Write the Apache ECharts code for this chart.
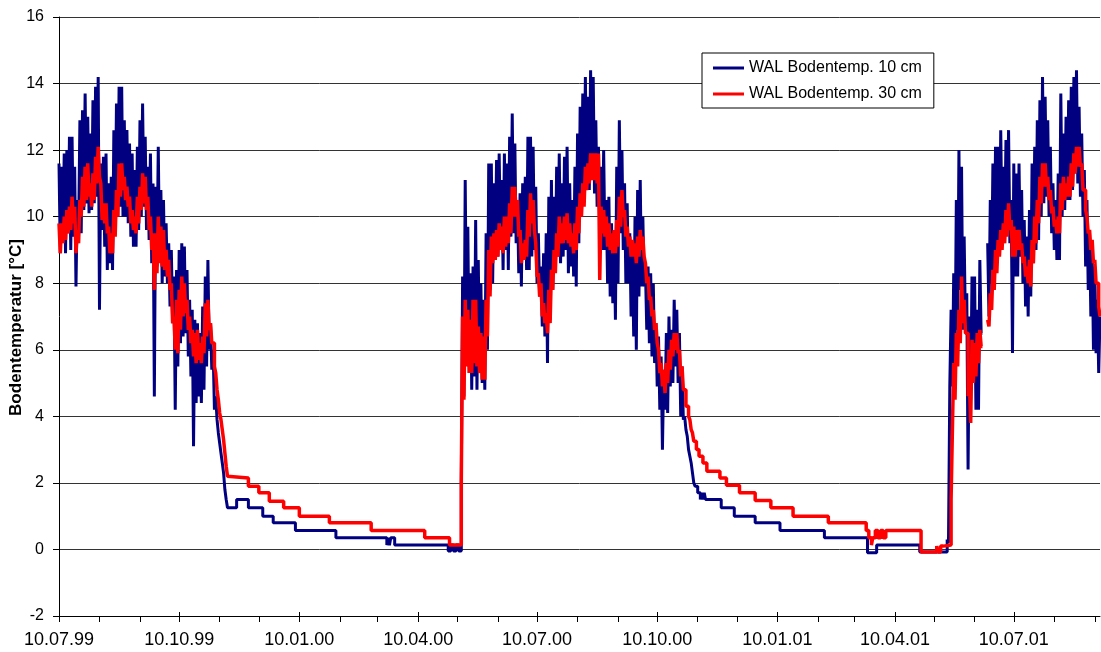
<!DOCTYPE html>
<html>
<head>
<meta charset="utf-8">
<script src="https://cdn.jsdelivr.net/npm/echarts@6/dist/echarts.min.js"></script>
<style>
  html, body { margin: 0; padding: 0; background: #fff; }
  #chart { width: 1101px; height: 652px; }
</style>
</head>
<body>
<div id="chart"></div>
<script>
// Tageswerte ab 10.07.1999 (Tag 0)
const startDate = '1999-07-10';
const lastDay = 797;
const tickLabels = ['10.07.99', '10.10.99', '10.01.00', '10.04.00', '10.07.00', '10.10.00', '10.01.01', '10.04.01', '10.07.01'];
const seriesNames = ['WAL Bodentemp. 10 cm', 'WAL Bodentemp. 30 cm'];

// 10 cm: Sommer 1999, Tag 0..121
const blue99 = [
  11.6, 8.9, 11.5, 9.5, 11.9, 8.9, 12.0, 9.5, 12.4, 9.0,
  12.4, 9.4, 11.5, 7.9, 10.5, 9.5, 12.9, 9.5, 13.2, 10.2,
  13.7, 10.4, 13.0, 10.1, 12.5, 10.2, 13.5, 10.4, 13.9, 10.6,
  14.2, 7.2, 11.6, 9.6, 11.8, 9.1, 11.9, 8.4, 11.0, 8.6,
  11.2, 8.4, 12.6, 9.7, 13.4, 10.0, 13.9, 10.3, 13.9, 10.0,
  12.9, 10.0, 12.6, 9.8, 12.2, 9.4, 11.9, 9.1, 11.4, 9.1,
  12.1, 9.6, 12.9, 10.0, 13.4, 10.3, 12.4, 9.6, 11.5, 9.3,
  11.9, 8.6, 11.0, 4.6, 10.9, 8.5, 12.1, 8.7, 10.8, 8.0,
  10.5, 8.2, 9.8, 8.0, 9.2, 7.3, 9.0, 6.8, 8.2, 4.2,
  8.4, 5.5, 9.0, 6.2, 9.2, 6.4, 9.1, 6.5, 8.4, 5.8,
  7.5, 5.2, 7.2, 3.1, 6.9, 4.4, 6.8, 4.6, 6.5, 4.4,
  7.3, 4.8, 8.2, 5.5, 8.7, 6.0, 6.8, 5.4, 6.0, 4.2,
  4.6, 3.9
];
// 10 cm: Winter 1999/2000, Stufen [Tag, Wert]
const blueWinter99 = [
  [122, 3.5], [123, 3.2], [124, 2.9], [125, 2.6], [126, 2.3], [127, 1.8], [128, 1.5], [129, 1.25],
  [136, 1.5], [145, 1.25], [156, 1.0], [164, 0.8], [181, 0.57], [212, 0.35],
  [251, 0.13], [252, 0.35], [253, 0.13], [254, 0.35], [257, 0.13],
  [298, -0.05], [300, 0.13], [302, -0.05], [304, 0.13], [306, -0.05], [308, 2.0]
];
// 10 cm: Sommer 2000, ab Tag 309
const blue00 = [
  8.2, 4.6, 11.1, 6.5, 9.7, 5.5, 8.3, 4.8, 8.5, 5.2,
  9.9, 4.8, 8.7, 5.3, 8.0, 5.0, 7.5, 4.8, 9.5, 6.0,
  11.6, 7.8, 11.6, 8.0, 11.0, 9.0, 11.7, 8.8, 11.9, 9.2,
  11.1, 8.4, 11.9, 9.0, 11.6, 8.4, 12.4, 9.4, 13.1, 9.5,
  12.2, 9.2, 10.5, 8.3, 10.7, 7.9, 11.0, 9.0, 11.2, 8.4,
  12.4, 8.4, 12.4, 8.8, 12.1, 9.0, 10.9, 8.0, 9.5, 7.6,
  8.5, 6.7, 8.9, 6.4, 9.5, 5.6, 10.6, 6.9, 11.1, 7.8,
  10.6, 8.4, 11.5, 8.8, 11.9, 8.6, 11.0, 8.8, 11.8, 9.0,
  12.1, 8.3, 11.0, 8.5, 10.5, 8.2, 11.5, 7.9, 12.5, 9.2,
  13.3, 10.0, 13.7, 10.6, 14.2, 10.9, 13.6, 10.8, 14.4, 11.2,
  14.2, 10.7, 12.9, 10.3, 12.1, 9.5, 11.5, 9.0, 12.0, 9.0,
  10.5, 8.0, 10.6, 7.6, 9.8, 7.4, 9.5, 6.9, 11.5, 8.0,
  12.9, 9.5, 12.0, 9.0, 11.0, 8.0, 10.4, 8.0, 9.5, 7.0,
  8.9, 6.4, 10.0, 6.0, 10.8, 7.6, 11.1, 7.9, 10.0, 7.9,
  8.4, 6.6, 8.5, 6.2, 8.3, 5.8, 8.0, 5.6, 6.8, 4.9,
  6.4, 4.2, 5.8, 3.0, 5.4, 4.2, 6.5, 4.1, 7.0, 4.9,
  6.6, 5.0, 7.5, 5.5, 7.2, 5.0, 6.5, 4.0, 5.5, 3.9,
  4.0, 3.6, 3.4, 3.0, 2.8, 2.6, 2.3
];
// 10 cm: Winter 2000/2001
const blueWinter00 = [
  [486, 2.0], [487, 1.9], [489, 1.7], [491, 1.5], [492, 1.7], [493, 1.5], [494, 1.7], [495, 1.5],
  [507, 1.25], [517, 1.0], [533, 0.8], [552, 0.57], [586, 0.35],
  [619, -0.1], [626, 0.13], [659, -0.08], [680, 0.3], [681, 0.2]
];
// 10 cm: Sommer 2001, ab Tag 682 (Lücke = null)
const blue01 = [
  4.9, 7.2, 4.9, 8.3, 5.6, 10.5, 6.6, 12.0, 7.8, 11.5,
  6.6, 9.4, 6.6, 7.7, 2.4, 7.0, 4.5, 8.2, 5.5, 8.2,
  4.2, 7.2, 4.2, 8.7, 6.5, null, null, null, null, 9.2,
  7.0, 10.5, 8.0, 11.6, 8.4, 12.1, 8.8, 12.1, 9.0, 12.6,
  9.5, 11.5, 9.4, 12.3, 9.7, 12.6, 9.2, 10.5, 5.9, 11.6,
  8.2, 11.3, 8.2, 11.6, 8.8, 10.8, 8.0, 9.9, 7.3, 9.4,
  7.0, 10.2, 7.6, 11.6, 8.6, 12.1, 9.0, 12.9, 9.3, 13.5,
  10.0, 14.2, 10.4, 13.6, 10.6, 12.9, 10.0, 12.1, 9.5, 11.0,
  9.0, 10.5, 8.7, 11.3, 8.7, 13.7, 10.0, 12.5, 10.2, 13.0,
  10.5, 13.5, 10.5, 13.9, 10.8, 14.2, 11.3, 14.4, 11.0, 13.3,
  10.6, 12.5, 10.0, 11.4, 8.5, 10.5, 7.8, 9.5, 7.0, 9.0,
  6.0, 8.5, 5.9, 7.5, 5.3, 7.0
];

// 30 cm: Sommer 1999, Tag 0..129
const red99 = [
  9.8, 8.9, 9.8, 9.2, 10.0, 9.3, 10.2, 9.5, 10.3, 9.6,
  10.6, 9.8, 10.3, 8.9, 9.6, 9.2, 10.5, 10.0, 11.2, 10.3,
  11.5, 10.5, 11.6, 10.6, 11.0, 10.3, 11.3, 10.5, 11.8, 11.0,
  12.1, 11.2, 11.0, 9.9, 10.4, 9.8, 10.4, 9.5, 9.7, 8.9,
  9.5, 8.9, 10.2, 9.4, 10.8, 10.0, 11.6, 10.6, 11.6, 10.8,
  11.2, 10.5, 10.9, 10.3, 10.6, 9.8, 10.2, 9.6, 10.0, 9.5,
  10.6, 9.8, 10.9, 10.2, 11.3, 10.4, 11.2, 10.2, 10.6, 9.6,
  10.0, 9.0, 9.5, 7.8, 9.5, 8.3, 10.0, 8.6, 9.7, 8.5,
  9.6, 8.4, 9.0, 8.2, 8.7, 7.8, 8.0, 6.8, 7.0, 6.0,
  7.5, 5.9, 7.8, 6.6, 8.2, 7.0, 8.0, 7.1, 7.5, 6.6,
  7.0, 6.2, 6.6, 5.8, 6.5, 5.6, 6.6, 5.7, 6.2, 5.6,
  6.4, 5.9, 7.4, 6.4, 7.5, 6.6, 6.8, 6.2, 6.2, 5.5,
  5.3, 4.8, 4.5, 4.1, 3.9, 3.6, 3.3, 2.9, 2.5, 2.2
];
const redWinter99 = [
  [130, 2.15], [145, 1.9], [153, 1.7], [161, 1.45], [172, 1.25], [184, 1.0],
  [207, 0.8], [239, 0.57], [280, 0.35], [299, 0.13], [308, 2.0]
];
// 30 cm: Sommer 2000, ab Tag 309
const red00 = [
  7.0, 4.5, 7.5, 5.5, 7.2, 5.3, 6.9, 5.3, 7.5, 5.6,
  7.5, 5.5, 6.7, 5.3, 6.5, 5.1, 6.4, 5.1, 7.5, 6.4,
  9.0, 7.6, 9.4, 8.6, 9.5, 8.7, 9.6, 8.8, 9.8, 9.0,
  9.7, 8.9, 10.0, 9.1, 10.0, 9.2, 10.4, 9.5, 10.9, 10.0,
  10.9, 10.0, 10.5, 9.4, 9.6, 8.6, 9.2, 8.7, 9.3, 8.8,
  10.2, 9.4, 10.7, 9.8, 10.5, 9.6, 9.2, 8.2, 8.3, 7.6,
  8.0, 7.0, 7.4, 6.8, 7.1, 6.5, 7.8, 6.8, 8.4, 7.8,
  9.0, 8.3, 9.5, 8.8, 10.0, 9.2, 9.8, 9.2, 10.0, 9.3,
  10.1, 9.2, 9.8, 9.1, 9.5, 8.9, 9.8, 9.0, 10.3, 9.5,
  10.7, 10.0, 11.0, 10.3, 11.5, 10.8, 11.6, 11.0, 11.9, 11.1,
  11.9, 11.1, 11.9, 11.0, 11.9, 8.1, 10.3, 9.5, 10.2, 9.4,
  10.0, 9.1, 9.8, 9.0, 9.5, 8.9, 9.6, 8.9, 9.9, 9.1,
  10.6, 9.7, 10.8, 10.0, 10.2, 9.4, 9.7, 9.1, 9.4, 8.8,
  9.3, 8.8, 9.2, 8.6, 9.4, 8.8, 9.6, 9.0, 9.4, 8.8,
  8.6, 8.0, 8.2, 7.5, 7.6, 7.0, 7.2, 6.6, 6.8, 6.2,
  6.0, 5.3, 5.6, 4.9, 5.4, 4.7, 5.6, 5.0, 6.0, 5.4,
  6.3, 5.8, 6.5, 6.0, 6.5, 5.9, 6.0, 5.2, 5.5, 4.8,
  4.8, 4.3, 4.3, 4.0, 3.9, 3.6, 3.5
];
const redWinter00 = [
  [486, 3.25], [488, 3.0], [490, 2.8], [493, 2.6], [496, 2.35], [506, 2.15], [511, 1.93],
  [521, 1.7], [533, 1.47], [545, 1.25], [562, 1.0], [589, 0.8], [618, 0.57],
  [620, 0.35], [622, 0.13], [623, 0.35], [625, 0.57], [627, 0.35], [629, 0.57], [631, 0.35], [633, 0.57],
  [660, -0.08], [672, 0.1], [673, -0.08], [675, 0.1], [677, 0.13], [683, 1.5], [684, 3.6]
];
// 30 cm: Sommer 2001, ab Tag 685
const red01 = [
  5.6, 4.5, 6.5, 5.5, 7.2, 6.2, 8.2, 6.8, 7.5, 6.5,
  6.5, 4.6, 5.0, 3.8, 6.3, 5.0, 6.2, 5.2, 6.5, 5.6,
  6.6, 6.1, null, null, null, null, 6.9, 6.7, 7.7, 7.2,
  8.4, 7.8, 9.0, 8.3, 9.3, 8.8, 9.6, 9.0, 9.8, 9.2,
  10.2, 9.4, 10.4, 9.6, 9.9, 8.8, 9.7, 8.8, 9.6, 9.0,
  9.6, 9.0, 9.2, 8.6, 8.8, 8.2, 8.5, 8.0, 8.7, 7.9,
  9.3, 8.6, 10.0, 9.2, 10.5, 9.8, 11.2, 10.4, 11.6, 10.9,
  11.6, 10.9, 11.2, 10.5, 10.8, 10.1, 10.3, 9.7, 9.9, 9.5,
  10.0, 9.5, 11.0, 10.2, 11.2, 10.5, 11.0, 10.6, 11.2, 10.6,
  11.6, 10.9, 11.9, 11.3, 12.1, 11.5, 12.1, 11.5, 11.6, 10.8,
  10.8, 10.2, 10.0, 9.5, 9.6, 9.0, 9.3, 8.6, 8.7, 8.0,
  8.0, 7.3, 7.0
];

// x = Tage seit startDate
const DAY = 864e5;
const t0 = Date.parse(startDate + 'T00:00:00Z');
function daily(first, vals) {
  return vals.map((v, i) => [first + i, v]);
}
const blueData = [].concat(daily(0, blue99), blueWinter99, daily(309, blue00), blueWinter00, daily(682, blue01));
const redData = [].concat(daily(0, red99), redWinter99, daily(309, red00), redWinter00, daily(685, red01));

function labelDay(s) {
  const p = s.split('.');
  const y = +p[2];
  return Math.round((Date.UTC(y < 50 ? 2000 + y : 1900 + y, +p[1] - 1, +p[0]) - t0) / DAY);
}
const majorTicks = tickLabels.map(labelDay);
const monthTicks = [];
for (let m = 0; ; m++) {
  const d = Math.round((Date.UTC(1999, 6 + m, 10) - t0) / DAY);
  if (d > lastDay) break;
  monthTicks.push(d);
}
function fmt(v) {
  const i = majorTicks.indexOf(Math.round(v));
  return i >= 0 ? tickLabels[i] : '';
}

const font = '"Liberation Sans", Arial, sans-serif';
const chart = echarts.init(document.getElementById('chart'));
chart.setOption({
  animation: false,
  backgroundColor: '#fff',
  grid: { left: 59, right: 1, top: 17, bottom: 36, containLabel: false, outerBoundsMode: 'none' },
  legend: {
    orient: 'vertical',
    left: 702,
    top: 53,
    data: seriesNames,
    backgroundColor: '#fff',
    borderColor: '#000',
    borderWidth: 1,
    padding: [7, 12, 6, 11],
    itemGap: 10,
    itemWidth: 31,
    itemHeight: 3,
    icon: 'rect',
    textStyle: { fontFamily: font, fontSize: 16, color: '#000' }
  },
  xAxis: [{
    type: 'value',
    min: 0,
    max: lastDay,
    axisLine: { show: true, onZero: false, lineStyle: { color: '#000', width: 1 } },
    axisTick: { show: true, customValues: monthTicks, length: 6, lineStyle: { color: '#000' } },
    axisLabel: {
      customValues: majorTicks,
      formatter: fmt,
      margin: 15,
      fontFamily: font,
      fontSize: 18,
      color: '#000'
    },
    splitLine: { show: false }
  }, {
    type: 'value',
    min: 0,
    max: lastDay,
    position: 'bottom',
    axisLine: { show: false, onZero: false },
    axisTick: { show: true, customValues: majorTicks, inside: true, length: 4, lineStyle: { color: '#000' } },
    axisLabel: { show: false },
    splitLine: { show: false }
  }],
  yAxis: {
    type: 'value',
    min: -2,
    max: 16,
    interval: 2,
    name: 'Bodentemperatur [°C]',
    nameLocation: 'middle',
    nameGap: 34,
    nameMoveOverlap: false,
    nameTextStyle: { fontFamily: font, fontSize: 17, fontWeight: 'bold', color: '#000', padding: [0, 22, 0, 0] },
    axisLine: { show: true, lineStyle: { color: '#000', width: 1 } },
    axisTick: { show: true, length: 6, lineStyle: { color: '#000' } },
    axisLabel: { margin: 15, fontFamily: font, fontSize: 16, color: '#000' },
    splitLine: { show: true, lineStyle: { color: '#333', width: 1 } }
  },
  series: [{
    name: seriesNames[0],
    type: 'line',
    step: 'end',
    data: blueData,
    showSymbol: false,
    symbol: 'none',
    connectNulls: false,
    color: '#000080',
    lineStyle: { color: '#000080', width: 3 }
  }, {
    name: seriesNames[1],
    type: 'line',
    step: 'end',
    data: redData,
    showSymbol: false,
    symbol: 'none',
    connectNulls: false,
    color: '#ff0000',
    lineStyle: { color: '#ff0000', width: 3.5 }
  }]
});
</script>
</body>
</html>
